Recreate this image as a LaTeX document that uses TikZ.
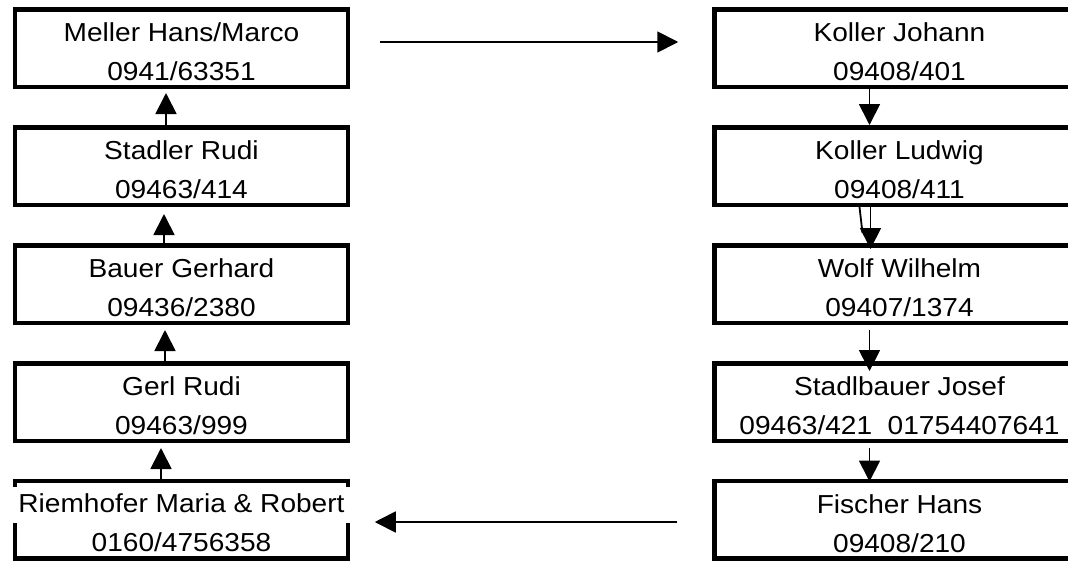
\documentclass[tikz,border=0pt]{standalone}
\usepackage{fontspec}
\setmainfont{Liberation Sans}[FakeStretch=1.08]
\usetikzlibrary{arrows.meta, positioning, calc}
\newcommand{\topline}{\rule{0pt}{27pt}}

\begin{document}
\begin{tikzpicture}[
    x=1pt, y=-1pt,
    person/.style={draw, line width=4.5pt, minimum width=333pt, minimum height=77.5pt, inner sep=0pt, align=center, font=\fontsize{26}{39}\selectfont},
    wideperson/.style={person, minimum width=370pt},
    link/.style={-{Triangle[length=21pt,width=21pt]}, line width=1.8pt}
]
    \useasboundingbox (0,0) rectangle (1068,560);
    \clip (0,0) rectangle (1068,560);

    % Left column
    \node[person] (meller) at (181.5,48) {\topline Meller Hans/Marco\\0941/63351};
    \node[person] (stadler) at (181.5,166) {\topline Stadler Rudi\\09463/414};
    \node[person] (bauer) at (181.5,284) {\topline Bauer Gerhard\\09436/2380};
    \node[person] (gerl) at (181.5,402) {\topline Gerl Rudi\\09463/999};
    \node[person] (riem) at (181.5,519.5) {\makebox[0pt]{{\fboxsep=0pt\colorbox{white}{\makebox[350pt]{\rule[-10pt]{0pt}{36pt}Riemhofer Maria \& Robert}}}}\\0160/4756358};

    % Right column
    \node[wideperson] (johann) at (899.5,48) {\topline Koller Johann\\09408/401};
    \node[wideperson] (ludwig) at (899.5,166) {\topline Koller Ludwig\\09408/411};
    \node[wideperson] (wolf) at (899.5,284) {\topline Wolf Wilhelm\\09407/1374};
    \node[wideperson] (stadl) at (899.5,402) {\topline Stadlbauer Josef\\09463/421\ \ 01754407641};
    \node[wideperson] (fischer) at (899.5,519.5) {\topline Fischer Hans\\09408/210};

    % Left chain, upwards
    \draw[link, shorten >=5pt] ([xshift=-20.5pt]riem.north) -- ([xshift=-20.5pt]gerl.south);
    \draw[link, shorten >=5pt] ([xshift=-16.5pt]gerl.north) -- ([xshift=-16.5pt]bauer.south);
    \draw[link, shorten >=7pt] ([xshift=-17.5pt]bauer.north) -- ([xshift=-17.5pt]stadler.south);
    \draw[link, shorten >=4pt] ([xshift=-15.5pt]stadler.north) -- ([xshift=-15.5pt]meller.south);

    % Across the top and the bottom
    \draw[link] ([xshift=30pt,yshift=6pt]meller.east) -- ([xshift=-34pt,yshift=6pt]johann.west);
    \draw[link] ([xshift=-35pt,yshift=-2.5pt]fischer.west) -- ([xshift=24.5pt,yshift=-2.5pt]riem.east);

    % Right chain, downwards
    \draw[link, shorten <=-3pt] ([xshift=-30pt]johann.south) -- ([xshift=-30pt]ludwig.north);
    \draw[link, shorten >=-6pt] ([xshift=-29pt]ludwig.south) -- ([xshift=-29pt]wolf.north);
    \draw[line width=1.8pt] ([xshift=-40pt]ludwig.south) -- ([xshift=-37pt,yshift=10pt]wolf.north);
    \draw[link, shorten <=5pt, shorten >=-10pt] ([xshift=-30pt]wolf.south) -- ([xshift=-30pt]stadl.north);
    \draw[link, shorten <=5pt, shorten >=-3pt] ([xshift=-30pt]stadl.south) -- ([xshift=-30pt]fischer.north);
\end{tikzpicture}
\end{document}
